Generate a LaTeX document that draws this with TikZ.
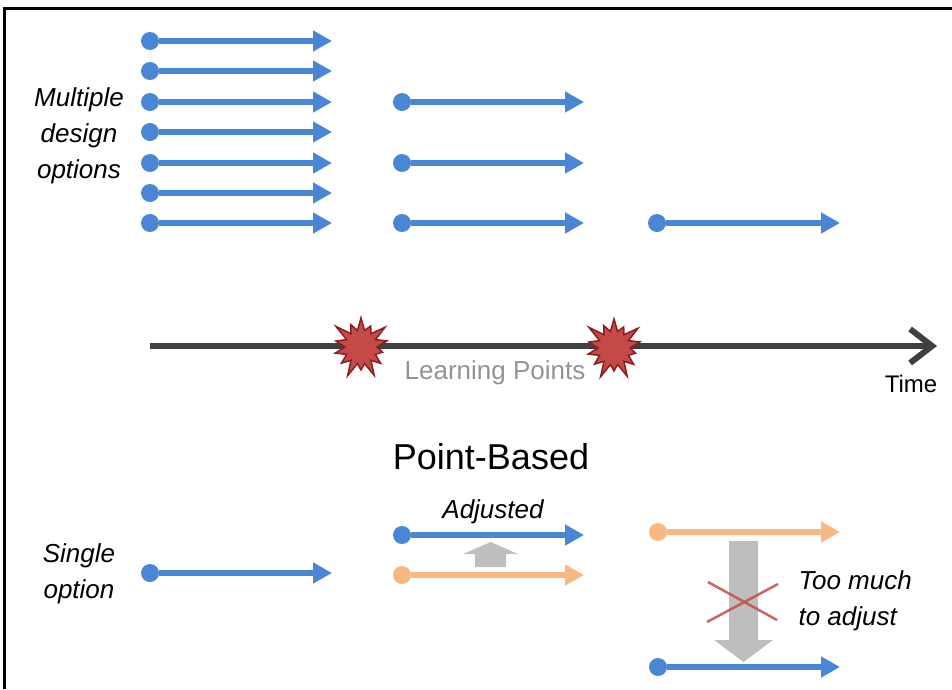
\documentclass[tikz,border=0pt]{standalone}
\usepackage{fontspec}
\setmainfont{Liberation Sans}
\usetikzlibrary{arrows.meta,shapes.symbols,positioning}
\definecolor{optblue}{RGB}{74,134,214}
\definecolor{optorange}{RGB}{248,184,130}
\definecolor{timegray}{RGB}{64,64,64}
\definecolor{burstred}{RGB}{196,74,72}
\definecolor{burstedge}{RGB}{140,30,30}
\definecolor{shiftgray}{RGB}{190,190,190}

\begin{document}
\begin{tikzpicture}[x=1pt,y=-1pt,
  optdot/.style={circle,fill=#1,inner sep=0pt,minimum size=18pt},
  optline/.style={#1,line width=5.5pt,-{Triangle[length=19pt,width=20pt]}},
  lbl/.style={font=\fontsize{26}{36}\selectfont\itshape,align=center},
  burst/.style={starburst,starburst points=14,starburst point height=17pt,
    minimum width=66pt,minimum height=68pt,fill=burstred,draw=burstedge,
    line width=1.5pt,inner sep=0pt}]
\useasboundingbox (0,0) rectangle (952,689);
\draw[line width=3pt] (4.5,689) -- (4.5,8) -- (952,8);

% set-based: many options, narrowed at each learning point
\foreach \y [count=\i] in {41,71,102,132,163,193,223} {
  \node[optdot=optblue] (a\i) at (150,\y) {};
  \coordinate (a\i e) at (332,\y);
  \draw[optline=optblue] (a\i) -- (a\i e);
}
\foreach \i in {3,5,7} {
  \node[optdot=optblue] (b\i) at (402,0 |- a\i) {};
  \coordinate (b\i e) at (584,0 |- a\i);
  \draw[optline=optblue] (b\i) -- (b\i e);
}
\node[optdot=optblue] (c7) at (657,0 |- a7) {};
\coordinate (c7e) at (840,0 |- a7);
\draw[optline=optblue] (c7) -- (c7e);
\node[lbl] (multi) at (79,136) {Multiple\\design\\options};

% time line
\coordinate (t0) at (150,346);
\coordinate (t1) at (937,346);
\draw[timegray,line width=6pt,-{Straight Barb[length=22pt,width=34pt]}] (t0) -- (t1);
\node[burst] (lp1) at (361,347) {};
\node[burst] (lp2) at (614,348) {};
\node[font=\fontsize{26}{30}\selectfont,text=gray!85] (lptext) at (495,373) {Learning Points};
\node[font=\fontsize{24}{28}\selectfont] (time) at (911,384) {Time};

% point-based
\node[font=\fontsize{36}{40}\selectfont] (pb) at (491,457) {Point-Based};
\node[lbl] (single) at (79,574) {Single\\option};
\node[optdot=optblue] (s1) at (150,573) {};
\coordinate (s1e) at (332,573);
\draw[optline=optblue] (s1) -- (s1e);

\node[optdot=optblue] (adjb) at (402,535) {};
\coordinate (adjbe) at (584,535);
\draw[optline=optblue] (adjb) -- (adjbe);
\node[optdot=optorange] (adjo) at (402,575) {};
\coordinate (adjoe) at (584,575);
\draw[optline=optorange] (adjo) -- (adjoe);
\fill[shiftgray] (475,567) -- (475,554) -- (463,554) -- (490.5,542)
  -- (518,554) -- (506,554) -- (506,567) -- cycle;
\node[lbl] (adj) at (493,512) {Adjusted};

\node[optdot=optorange] (fo) at (658,532) {};
\coordinate (foe) at (840,532);
\draw[optline=optorange] (fo) -- (foe);
\node[optdot=optblue] (fb) at (658,667) {};
\coordinate (fbe) at (840,667);
\draw[optline=optblue] (fb) -- (fbe);
\fill[shiftgray] (729,541) -- (758,541) -- (758,640) -- (773,640)
  -- (743.5,662) -- (714,640) -- (729,640) -- cycle;
\draw[burstred,opacity=0.85,line width=2.5pt] (708,582) -- (777,620)
  (707,622) -- (778,584);
\node[lbl,align=left,anchor=west] (toomuch) at (795,601) {Too much\\to adjust};
\end{tikzpicture}
\end{document}
